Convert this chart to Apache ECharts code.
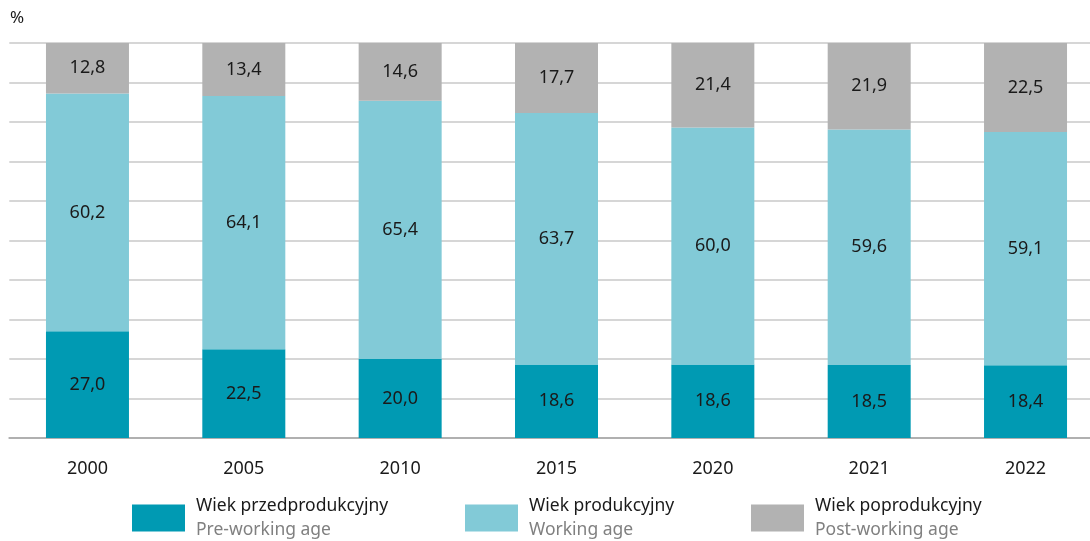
<!DOCTYPE html>
<html>
<head>
<meta charset="utf-8">
<script src="https://cdn.jsdelivr.net/npm/echarts@6/dist/echarts.min.js"></script>
<style>html,body{margin:0;padding:0;background:#fff}#c{width:1090px;height:541px}</style>
</head>
<body>
<div id="c"></div>
<script>
var categories = ['2000','2005','2010','2015','2020','2021','2022'];
var preWorking = [27.0, 22.5, 20.0, 18.6, 18.6, 18.5, 18.4];
var working = [60.2, 64.1, 65.4, 63.7, 60.0, 59.6, 59.1];
var postWorking = [12.8, 13.4, 14.6, 17.7, 21.4, 21.9, 22.5];
var seriesNamesPL = ['Wiek przedprodukcyjny','Wiek produkcyjny','Wiek poprodukcyjny'];
var seriesNamesEN = ['Pre-working age','Working age','Post-working age'];
var colors = ['#009AB3','#82CAD7','#B2B2B2'];
var FONT = '"Noto Sans", sans-serif';

var chart = echarts.init(document.getElementById('c'), null, {renderer:'canvas'});
function fmt(p){ return p.value.toFixed(1).replace('.', ','); }
function mkSeries(i, data){
  return {
    name: seriesNamesPL[i], type:'bar', stack:'t', data:data, barWidth:83,
    itemStyle:{color:colors[i]},
    label:{show:true, position:'inside', formatter:fmt, color:'#1a1a1a', fontSize:18, fontFamily:FONT},
    emphasis:{disabled:true}
  };
}
var legendLefts = [132, 465, 751];
var legends = [0,1,2].map(function(i){
  return {
    data:[seriesNamesPL[i]], left:legendLefts[i], top:497, padding:0,
    icon:'rect', itemWidth:53, itemHeight:27, selectedMode:false,
    formatter:function(n){ return '{a|'+n+'}\n{b|'+seriesNamesEN[i]+'}'; },
    textStyle:{
      padding:[0,0,0,6],
      rich:{
        a:{fontSize:17.5, fontFamily:FONT, color:'#1a1a1a', lineHeight:24},
        b:{fontSize:17.5, fontFamily:FONT, color:'#808080', lineHeight:24}
      }
    }
  };
});
chart.setOption({
  animation:false,
  grid:{left:9.3, width:1094.4, top:43, height:395, containLabel:false, outerBoundsMode:'none'},
  graphic:[{type:'text', left:10, top:10, style:{text:'%', fontSize:17, fontFamily:FONT, fill:'#1a1a1a'}}],
  legend: legends,
  xAxis:{
    type:'category', data:categories,
    axisLine:{lineStyle:{color:'#b0b0b0', width:2}},
    axisTick:{show:false},
    axisLabel:{color:'#1a1a1a', fontSize:18, fontFamily:FONT, margin:22}
  },
  yAxis:{
    type:'value', min:0, max:100, interval:10,
    axisLabel:{show:false}, axisLine:{show:false}, axisTick:{show:false},
    splitLine:{lineStyle:{color:'#c8c8c8', width:1.5}}
  },
  series:[mkSeries(0, preWorking), mkSeries(1, working), mkSeries(2, postWorking)]
});
</script>
</body>
</html>
